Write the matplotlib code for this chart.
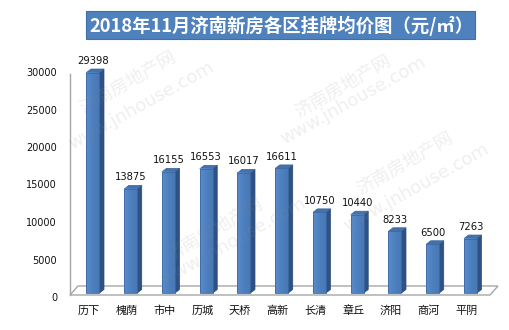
import matplotlib
matplotlib.use("Agg")
import matplotlib.pyplot as plt
from matplotlib.patches import Polygon, Rectangle
import numpy as np

districts = ["历下", "槐荫", "市中", "历城", "天桥", "高新", "长清", "章丘", "济阳", "商河", "平阴"]
prices = [29398, 13875, 16155, 16553, 16017, 16611, 10750, 10440, 8233, 6500, 7263]
yticks = [0, 5000, 10000, 15000, 20000, 25000, 30000]
title = "2018年11月济南新房各区挂牌均价图（元/㎡）"
watermark_cn = "济南房地产网"
watermark_en = "www.jnhouse.com"

CJK = ["Noto Sans CJK SC", "DejaVu Sans"]

W, H = 510, 330
fig = plt.figure(figsize=(W / 100, H / 100), dpi=100)
fig.patch.set_facecolor("white")

# plot area: 0 -> 298px, 30000 -> 73px ; category i centred at 93 + 37.75*i px
ax = fig.add_axes([70 / W, (H - 298) / H, 420 / W, 225 / H])
x0 = -0.609
ax.set_xlim(x0, 10.517)
ax.set_ylim(0, 30000)
ax.axis("off")

PX_X = 37.75
PX_Y = 225 / 30000


def ux(p):
    return p / PX_X


def uy(p):
    return p / PX_Y


# floor (perspective plane) and value axis
floor = Polygon([(x0, uy(3)), (x0 + ux(8), uy(12)), (x0 + ux(428), uy(12)), (x0 + ux(420), uy(3))],
                closed=True, facecolor="white", edgecolor="#A6A6A6", lw=1.0, clip_on=False, zorder=1)
ax.add_patch(floor)
ax.plot([x0, x0], [uy(3), uy(224)], color="#A6A6A6", lw=1.0, clip_on=False, zorder=1)

# 3D bars
bw = ux(13)
ddx, ddy = ux(4.5), uy(3.5)
base = uy(5)
grad = np.linspace(0, 1, 64).reshape(1, -1)
cmap = matplotlib.colors.LinearSegmentedColormap.from_list("face", ["#5A8CCB", "#4D80BE", "#4879B6"])
for i, v in enumerate(prices):
    xl, xr = i - bw / 2, i + bw / 2
    yb, yt = base, base + v
    side = Polygon([(xr, yb), (xr + ddx, yb + ddy), (xr + ddx, yt + ddy), (xr, yt)],
                   closed=True, facecolor="#2E5283", edgecolor="#284877", lw=0.5, clip_on=False, zorder=3)
    top = Polygon([(xl, yt), (xl + ddx, yt + ddy), (xr + ddx, yt + ddy), (xr, yt)],
                  closed=True, facecolor="#4672AA", edgecolor="#3A639A", lw=0.5, clip_on=False, zorder=3)
    front = Rectangle((xl, yb), bw, v, facecolor="none", edgecolor="#3B69A6", lw=0.6, clip_on=False, zorder=4)
    ax.add_patch(side)
    ax.add_patch(top)
    im = ax.imshow(grad, extent=(xl, xr, yb, yt), aspect="auto", cmap=cmap, zorder=3.5)
    im.set_clip_on(False)
    ax.add_patch(front)
    ax.text(i, yt + uy(11.5), f"{v}", ha="center", va="center", fontsize=7.2,
            color="#111111", family="DejaVu Sans", zorder=5, clip_on=False)
    ax.text(i - ux(4), -uy(13), districts[i], ha="center", va="center", fontsize=8,
            color="#111111", family=CJK, zorder=5, clip_on=False)

ax.set_xlim(x0, 10.517)
ax.set_ylim(0, 30000)

for t in yticks:
    ax.text(x0 - ux(13), t, f"{t}", ha="right", va="center", fontsize=7,
            color="#111111", family="DejaVu Sans", clip_on=False)

# title banner
fig.patches.append(Rectangle((86 / W, (H - 39) / H), 389 / W, 28 / H, transform=fig.transFigure,
                             facecolor="#4F81BD", edgecolor="#3F6FA8", lw=0.8, zorder=1))
fig.text(281 / W, (H - 25.5) / H, title, ha="center", va="center", fontsize=13.2,
         fontweight="bold", color="white", family=CJK, zorder=2)

# watermark
marks = [((128, 82), (141, 106)), ((343, 86), (353, 101)), ((405, 163), (416, 188)), ((215, 229), (233, 242))]
for (cx, cy), (ex, ey) in marks:
    fig.text(cx / W, (H - cy) / H, watermark_cn, rotation=30, ha="center", va="center",
             rotation_mode="anchor", fontsize=13, color="#8C8C8C", alpha=0.14, family=CJK, zorder=10)
    fig.text(ex / W, (H - ey) / H, watermark_en, rotation=29, ha="center", va="center",
             rotation_mode="anchor", fontsize=13, color="#8C8C8C", alpha=0.14, family="DejaVu Sans", zorder=10)

fig.savefig("out.png", dpi=100, facecolor="white")
